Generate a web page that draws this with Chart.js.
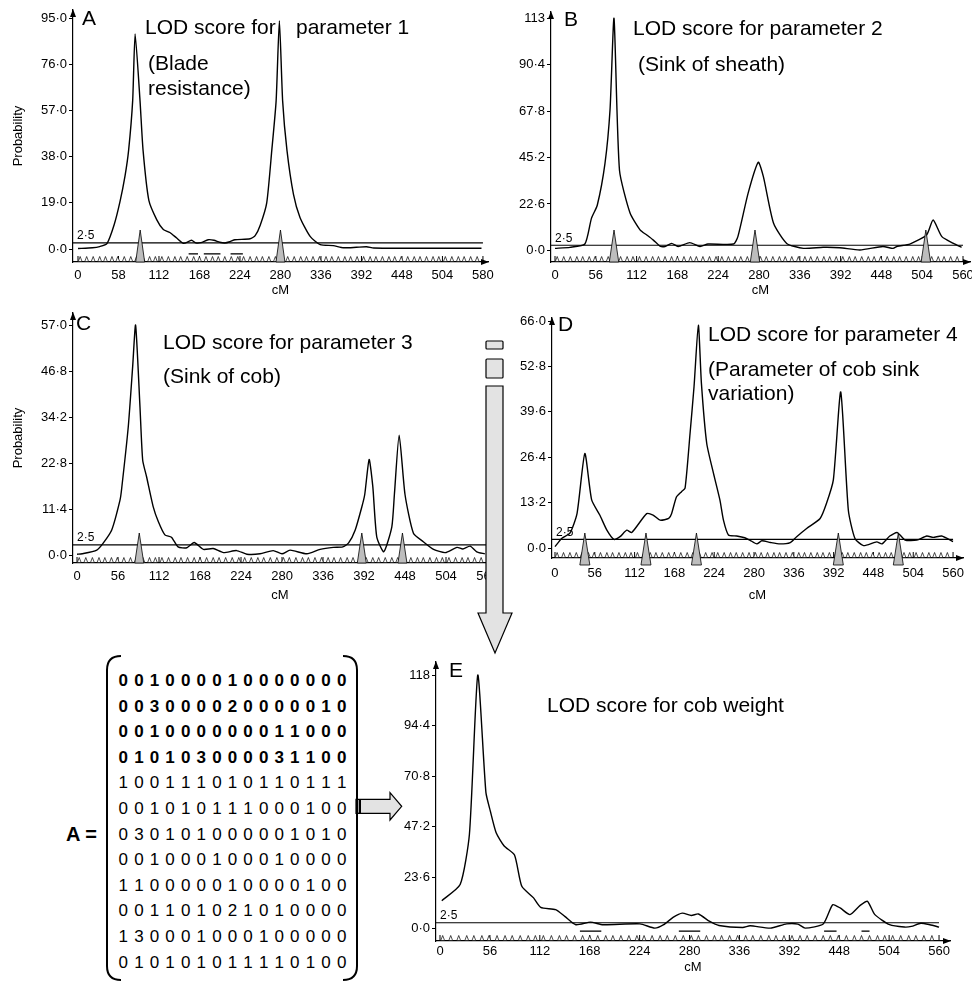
<!DOCTYPE html>
<html>
<head>
<meta charset="utf-8">
<title>LOD score figure</title>
<script src="https://cdn.jsdelivr.net/npm/chart.js@4.4.1/dist/chart.umd.min.js"></script>
<style>
  body { margin: 0; background: #fff; }
  #fig { position: relative; width: 972px; height: 981px; overflow: hidden;
         font-family: "Liberation Sans", Arial, Helvetica, sans-serif; color: #000; }
  canvas { position: absolute; }
  .txt { position: absolute; font-size: 21px; line-height: 1; white-space: nowrap; }
  #matrix { position: absolute; left: 115.5px; top: 668px; display: grid;
            grid-template-columns: repeat(15, 15.6px); grid-auto-rows: 25.6px;
            font-size: 17px; line-height: 25.6px; text-align: center; }
  #matrix .b { font-weight: bold; }
  #aeq { position: absolute; left: 66px; top: 824px; font-size: 20px; line-height: 1; font-weight: bold; }
  svg { position: absolute; left: 0; top: 0; }
</style>
</head>
<body>
<div id="fig">
  <canvas id="chartA" width="508" height="300" style="left:0px;top:0px"></canvas>
  <canvas id="chartB" width="492" height="300" style="left:498px;top:0px"></canvas>
  <canvas id="chartC" width="507" height="310" style="left:0px;top:300px"></canvas>
  <canvas id="chartD" width="485" height="310" style="left:498px;top:300px"></canvas>
  <canvas id="chartE" width="570" height="331" style="left:400px;top:650px"></canvas>

  <div class="txt" style="left:82px;top:7px">A</div>
  <div class="txt" style="left:145px;top:15.5px">LOD score for</div>
  <div class="txt" style="left:296px;top:15.5px">parameter 1</div>
  <div class="txt" style="left:148px;top:52px">(Blade</div>
  <div class="txt" style="left:148px;top:77px">resistance)</div>

  <div class="txt" style="left:564px;top:8px">B</div>
  <div class="txt" style="left:633px;top:17px">LOD score for parameter 2</div>
  <div class="txt" style="left:638px;top:53px">(Sink of sheath)</div>

  <div class="txt" style="left:76px;top:312px">C</div>
  <div class="txt" style="left:163px;top:330.5px">LOD score for parameter 3</div>
  <div class="txt" style="left:163px;top:365px">(Sink of cob)</div>

  <div class="txt" style="left:558px;top:313px">D</div>
  <div class="txt" style="left:708px;top:323px">LOD score for parameter 4</div>
  <div class="txt" style="left:708px;top:358px">(Parameter of cob sink</div>
  <div class="txt" style="left:708px;top:382px">variation)</div>

  <div class="txt" style="left:449px;top:659px">E</div>
  <div class="txt" style="left:547px;top:694px">LOD score for cob weight</div>

  <div id="aeq">A =</div>
  <div id="matrix"></div>

  <svg width="972" height="981" viewBox="0 0 972 981">
    <g fill="#e3e3e3" stroke="#000" stroke-width="1.2">
      <rect x="486" y="341" width="17" height="8" rx="1"/>
      <rect x="486" y="359" width="17" height="19" rx="1"/>
      <path d="M486,386 H503 V613 H512 L495,653 L478,613 H486 Z"/>
      <path d="M356,799.3 H390 V792.7 L401.7,806.3 L390,820 V813.3 H356 Z"/>
    </g>
    <rect x="356" y="799.3" width="5" height="14" fill="#000"/>
    <line x1="358.4" y1="800" x2="358.4" y2="812.6" stroke="#bbb" stroke-width="1"/>
    <g fill="none" stroke="#000" stroke-width="2">
      <path d="M121,656 Q107,656 107,670 V966 Q107,980 121,980"/>
      <path d="M343,656 Q357,656 357,670 V966 Q357,980 343,980"/>
    </g>
  </svg>
</div>

<script>
// axis ticks and labels
const xTickVals = [0, 56, 112, 168, 224, 280, 336, 392, 448, 504, 560];
const xLabelsA = ['0', '58', '112', '168', '224', '280', '336', '392', '448', '504', '580'];
const xLabels = ['0', '56', '112', '168', '224', '280', '336', '392', '448', '504', '560'];

const yTicksA = [0, 19, 38, 57, 76, 95];
const yLabelsA = ['0·0', '19·0', '38·0', '57·0', '76·0', '95·0'];
const yTicksB = [0, 22.6, 45.2, 67.8, 90.4, 113];
const yLabelsB = ['0·0', '22·6', '45·2', '67·8', '90·4', '113'];
const yTicksC = [0, 11.4, 22.8, 34.2, 45.6, 57];
const yLabelsC = ['0·0', '11·4', '22·8', '34·2', '46·8', '57·0'];
const yTicksD = [0, 13.2, 26.4, 39.6, 52.8, 66];
const yLabelsD = ['0·0', '13·2', '26·4', '39·6', '52·8', '66·0'];
const yTicksE = [0, 23.6, 47.2, 70.8, 94.4, 118];
const yLabelsE = ['0·0', '23·6', '47·2', '70·8', '94·4', '118'];

const threshold = 2.5;
const thresholdLabel = '2·5';

// LOD curves (cM position, LOD value)
const cmA = [0, 20, 30, 40, 50, 58, 65, 70, 75.6, 79, 85.8, 90, 98, 109, 118, 127, 136.5, 146, 157, 163, 170, 180, 188, 196, 203, 210, 217, 238, 245, 252, 261, 268, 274, 278.5, 283, 289, 298, 307, 321, 335, 353, 367, 385, 399, 409, 450, 500, 558];
const lodA = [0.2, 0.5, 1, 2.2, 10, 19.4, 30, 40.6, 61, 88.5, 61, 40.6, 20, 12, 8, 6.8, 4.5, 2.3, 3.6, 2.5, 2.6, 3.8, 3.6, 2.8, 2.5, 3, 3.8, 4.2, 5.5, 9.8, 19, 40.6, 61, 94, 61, 40.6, 22.5, 13, 5.2, 1.8, 1.4, 0.5, 0.7, 0.9, 0.4, 0.3, 0.3, 0.3];

const cmB = [0, 20.6, 41, 50, 58, 68.6, 75.5, 81, 88.5, 103, 116.7, 126, 135, 144, 151, 160, 169, 185, 199, 210, 245, 251, 265, 279, 286, 300, 318, 341, 368, 391, 418.6, 450, 464, 470, 487, 510, 519, 531, 547, 558];
const lodB = [1, 1.5, 3.1, 15.6, 22, 42.4, 68.4, 113, 39, 18.2, 10, 7.5, 5, 2.1, 1.9, 3.4, 1.9, 3.8, 1.9, 3.1, 3.1, 6.7, 27.8, 42.9, 35.9, 13.2, 3.4, 1, 1.5, 1.3, 0.2, 1.9, 1, 2, 3.1, 7.5, 14.8, 6.7, 3.4, 1.5];

const cmC = [0, 7, 27, 36, 47.4, 58.7, 61, 70, 76, 80, 86, 89.7, 95, 104, 111, 120, 129, 138, 150, 160, 172.6, 186, 200, 218, 232, 250, 268, 280, 291, 314, 332, 350, 363, 371, 380, 389, 393, 399, 404, 409.4, 419, 430, 433.5, 440, 448, 459.5, 473, 487, 503, 519, 527, 537, 546, 557];
const lodC = [0.2, 0.3, 1.2, 3, 6.2, 13.6, 16.5, 31.8, 46.7, 57, 36.7, 23.5, 19.4, 12, 8.3, 5, 4.4, 2, 1.8, 3.1, 1.4, 1.6, 0.6, 1.1, 0.2, 0.3, 1.1, 0.3, 1.2, 0.3, 1.4, 1.9, 2, 3, 6.2, 11.9, 15, 23.7, 17, 4.5, 0.8, 7, 15, 29.7, 15, 5.4, 3.3, 1.4, 0.6, 1.9, 1.5, 2.2, 0.8, 0.3];

const cmD = [0, 9.4, 21, 31, 42, 51.6, 63, 73, 83, 91.5, 101, 108, 129, 138, 148, 160, 164, 171, 178, 183, 190, 195.6, 201.7, 206, 213.5, 223, 232, 237, 244, 255.6, 267, 274, 284, 291, 303, 316.6, 331, 340, 354, 373, 382, 391.6, 402, 412.7, 422, 434, 452.6, 460, 471, 481.6, 492.5, 509, 523, 532, 544, 560];
const lodD = [0.4, 2.8, 4.3, 10, 27.5, 14, 9.6, 5.2, 2.5, 3.3, 5.2, 4.5, 10, 9.6, 8.1, 8.6, 10, 14.9, 16.4, 17.4, 33.3, 46.9, 64.8, 47.9, 30.4, 21.7, 14, 8.1, 3.8, 3.5, 3, 2.3, 1.2, 2.1, 1.6, 1.2, 1.6, 3.3, 5.7, 8.6, 13, 19.8, 45.4, 11, 2.8, 0.7, 1.8, 1.2, 3.5, 4.5, 2.3, 2.3, 3.5, 3.1, 3.5, 1.9];

const cmE = [2, 22.6, 33, 42.4, 51.5, 56.4, 63, 72, 83.6, 91.8, 105, 113, 129.7, 140, 152.4, 168.8, 183, 224.4, 241, 251, 261.5, 271.8, 282, 290, 302.7, 313, 339.7, 348, 370.6, 389, 401.5, 409.7, 430, 440.6, 449, 460, 471.5, 479.7, 488, 504.5, 521, 529, 539.5, 549.7, 560];
const lodE = [12.8, 20.3, 43.8, 118, 63.3, 54.7, 44.5, 38.3, 34.1, 19.5, 14.1, 9.7, 8.6, 5.5, 1.6, 2.8, 1.6, 2, 0, 1.6, 5, 7, 5.9, 6.6, 3.1, 1.25, 0.3, 1.1, 0, 2, 1.9, 0, 1.9, 10.9, 9.4, 6.3, 10.6, 12.5, 6.3, 1.6, 0.5, 0.8, 2.3, 1.6, 0.5];

// QTL positions (grey triangles), support intervals, genetic markers
const qtlA = [86, 280];
const qtlB = [81, 274.5, 509];
const qtlC = [85, 389, 444.5];
const qtlD = [42, 128, 199, 398.6, 483];
const ciA = [[153, 166], [174, 197], [211, 228]];
const ciE = [[157, 181], [268, 292], [431, 445], [473, 482]];
const markerCM = [3, 12, 21, 30, 38, 47, 55, 64, 73, 81, 90, 99, 107, 116, 125, 134, 142, 151, 160, 168, 177, 186, 194, 203, 212, 221, 229, 238, 247, 255, 264, 273, 282, 290, 299, 308, 316, 325, 334, 343, 351, 360, 369, 377, 386, 395, 404, 412, 421, 430, 438, 447, 456, 465, 473, 482, 491, 499, 508, 517, 526, 534, 543, 552];

// matrix A
const matrixRows = [
  '001000010000000', '003000020000010', '001000000011000', '010103000031100',
  '100111010110111', '001010111000100', '030101000001010', '001000100010000',
  '110000010000100', '001101021010000', '130001000100000', '010101011110100'
];
const boldRows = 4;

const matrixEl = document.getElementById('matrix');
matrixRows.forEach((row, r) => {
  row.split('').forEach(d => {
    const cell = document.createElement('div');
    cell.textContent = d;
    if (r < boldRows) cell.className = 'b';
    matrixEl.appendChild(cell);
  });
});

Chart.defaults.font.family = "'Liberation Sans', Arial, Helvetica, sans-serif";
Chart.defaults.color = '#000';

// Extra drawing: axis arrows, markers, QTL triangles, intervals, threshold label
const lodDecor = {
  id: 'lodDecor',
  afterDraw(chart, args, o) {
    const { ctx, chartArea: a, scales: { x, y } } = chart;
    ctx.save();
    ctx.fillStyle = '#000';
    ctx.strokeStyle = '#000';

    // y axis arrow
    ctx.beginPath();
    ctx.moveTo(a.left, a.top - 1);
    ctx.lineTo(a.left - 3, a.top + 7);
    ctx.lineTo(a.left + 3, a.top + 7);
    ctx.closePath();
    ctx.fill();
    // x axis arrow
    if (o.xArrow) {
      ctx.beginPath();
      ctx.moveTo(a.right + 1, a.bottom);
      ctx.lineTo(a.right - 7, a.bottom - 3);
      ctx.lineTo(a.right - 7, a.bottom + 3);
      ctx.closePath();
      ctx.fill();
    }

    // small tick bars at the labelled positions
    ctx.lineWidth = 1;
    xTickVals.forEach(v => {
      const px = x.getPixelForValue(v);
      if (px > a.right - 1) return;
      ctx.beginPath();
      ctx.moveTo(px, a.bottom);
      ctx.lineTo(px, a.bottom - 6);
      ctx.stroke();
    });

    // marker triangles
    ctx.lineWidth = 0.7;
    ctx.fillStyle = '#fff';
    markerCM.forEach(m => {
      const px = x.getPixelForValue(m);
      if (px > a.right - 3) return;
      ctx.beginPath();
      ctx.moveTo(px - 1.9, a.bottom - 0.5);
      ctx.lineTo(px, a.bottom - 5.5);
      ctx.lineTo(px + 1.9, a.bottom - 0.5);
      ctx.closePath();
      ctx.fill();
      ctx.stroke();
    });

    // QTL triangles
    ctx.fillStyle = '#bdbdbd';
    ctx.lineWidth = 0.8;
    (o.qtl || []).forEach(q => {
      const px = x.getPixelForValue(q);
      ctx.beginPath();
      ctx.moveTo(px - o.qtlHalf, a.bottom + o.qtlDrop);
      ctx.lineTo(px, a.bottom - o.qtlHeight);
      ctx.lineTo(px + o.qtlHalf, a.bottom + o.qtlDrop);
      ctx.closePath();
      ctx.fill();
      ctx.stroke();
    });

    // support intervals
    ctx.lineWidth = 1.3;
    (o.ci || []).forEach(([s, e]) => {
      const py = y.getPixelForValue(o.ciY);
      ctx.beginPath();
      ctx.moveTo(x.getPixelForValue(s), py);
      ctx.lineTo(x.getPixelForValue(e), py);
      ctx.stroke();
    });

    // threshold label
    ctx.fillStyle = '#000';
    ctx.font = "12px 'Liberation Sans', Arial, sans-serif";
    ctx.textAlign = 'left';
    ctx.textBaseline = 'bottom';
    ctx.fillText(thresholdLabel, a.left + 4, y.getPixelForValue(threshold) - 1);
    ctx.restore();
  }
};

function makePanel(id, p) {
  const curve = p.cm.map((c, i) => ({ x: c, y: p.lod[i] }));
  const thr = [{ x: p.xMin, y: threshold }, { x: 560, y: threshold }];
  return new Chart(document.getElementById(id), {
    type: 'line',
    data: {
      datasets: [{
        data: curve,
        borderColor: '#000',
        borderWidth: 1.4,
        pointRadius: 0,
        tension: 0.2,
        fill: false
      }, {
        data: thr,
        borderColor: '#000',
        borderWidth: 1.2,
        pointRadius: 0,
        tension: 0,
        fill: false
      }]
    },
    options: {
      responsive: false,
      animation: false,
      layout: { padding: { top: p.padTop, right: 20, left: 0, bottom: 0 } },
      plugins: {
        legend: { display: false },
        tooltip: { enabled: false },
        lodDecor: {
          xArrow: p.xArrow, qtl: p.qtl, qtlHeight: p.qtlHeight, qtlDrop: p.qtlDrop,
          qtlHalf: p.qtlHalf, ci: p.ci, ciY: p.ciY
        }
      },
      scales: {
        x: {
          type: 'linear',
          min: p.xMin,
          max: p.xMax,
          afterBuildTicks: s => { s.ticks = xTickVals.map(v => ({ value: v })); },
          afterFit: s => { s.height = p.xAxisH; },
          ticks: {
            callback: (v, i) => p.xLabels[i],
            font: { size: 13 },
            padding: p.xPad,
            maxRotation: 0,
            autoSkip: false
          },
          grid: { display: false, drawTicks: false },
          border: { display: true, color: '#000', width: 1.2 },
          title: { display: true, text: 'cM', font: { size: 13 }, padding: { top: 0, bottom: p.cmPad } }
        },
        y: {
          type: 'linear',
          min: p.yMin,
          max: p.yMax,
          afterBuildTicks: s => { s.ticks = p.yTicks.map(v => ({ value: v })); },
          afterFit: s => { s.width = p.yAxisW; },
          ticks: {
            callback: (v, i) => p.yLabels[i],
            font: { size: 13 },
            padding: 2,
            autoSkip: false
          },
          grid: { drawOnChartArea: false, drawTicks: true, tickLength: 4, color: '#000' },
          border: { display: true, color: '#000', width: 1.2 },
          title: { display: !!p.yTitle, text: 'Probability', font: { size: 13 }, padding: { top: 11, bottom: 0 } }
        }
      }
    },
    plugins: [lodDecor]
  });
}

makePanel('chartA', {
  cm: cmA, lod: lodA, xLabels: xLabelsA, yTicks: yTicksA, yLabels: yLabelsA,
  xMin: -6.9, xMax: 567, yMin: -5.35, yMax: 98.4,
  yAxisW: 73, xAxisH: 38, padTop: 10, xPad: 5.5, cmPad: 2.2, yTitle: true, xArrow: true,
  qtl: qtlA, qtlHeight: 32, qtlDrop: 0, qtlHalf: 4.5, ci: ciA, ciY: -2
});

makePanel('chartB', {
  cm: cmB, lod: lodB, xLabels: xLabels, yTicks: yTicksB, yLabels: yLabelsB,
  xMin: -5.5, xMax: 569.6, yMin: -5.65, yMax: 116.1,
  yAxisW: 53, xAxisH: 38, padTop: 12, xPad: 5.5, cmPad: 2.2, yTitle: false, xArrow: true,
  qtl: qtlB, qtlHeight: 32, qtlDrop: 0, qtlHalf: 4.7
});

makePanel('chartC', {
  cm: cmC, lod: lodC, xLabels: xLabels, yTicks: yTicksC, yLabels: yLabelsC,
  xMin: -5.5, xMax: 560, yMin: -1.98, yMax: 60,
  yAxisW: 73, xAxisH: 47, padTop: 13, xPad: 5.5, cmPad: 7.2, yTitle: true, xArrow: false,
  qtl: qtlC, qtlHeight: 30, qtlDrop: 0, qtlHalf: 4.5
});

makePanel('chartD', {
  cm: cmD, lod: lodD, xLabels: xLabels, yTicks: yTicksD, yLabels: yLabelsD,
  xMin: -4.2, xMax: 574, yMin: -2.9, yMax: 66.9,
  yAxisW: 54, xAxisH: 52, padTop: 18, xPad: 7.3, cmPad: 7.2, yTitle: false, xArrow: true,
  qtl: qtlD, qtlHeight: 25, qtlDrop: 7, qtlHalf: 5
});

makePanel('chartE', {
  cm: cmE, lod: lodE, xLabels: xLabels, yTicks: yTicksE, yLabels: yLabelsE,
  xMin: -4.5, xMax: 572.3, yMin: -6.0, yMax: 124.1,
  yAxisW: 36, xAxisH: 40, padTop: 12, xPad: 3, cmPad: 6, yTitle: false, xArrow: true,
  qtl: [], qtlHeight: 0, qtlDrop: 0, qtlHalf: 0, ci: ciE, ciY: -1.4
});
</script>
</body>
</html>
